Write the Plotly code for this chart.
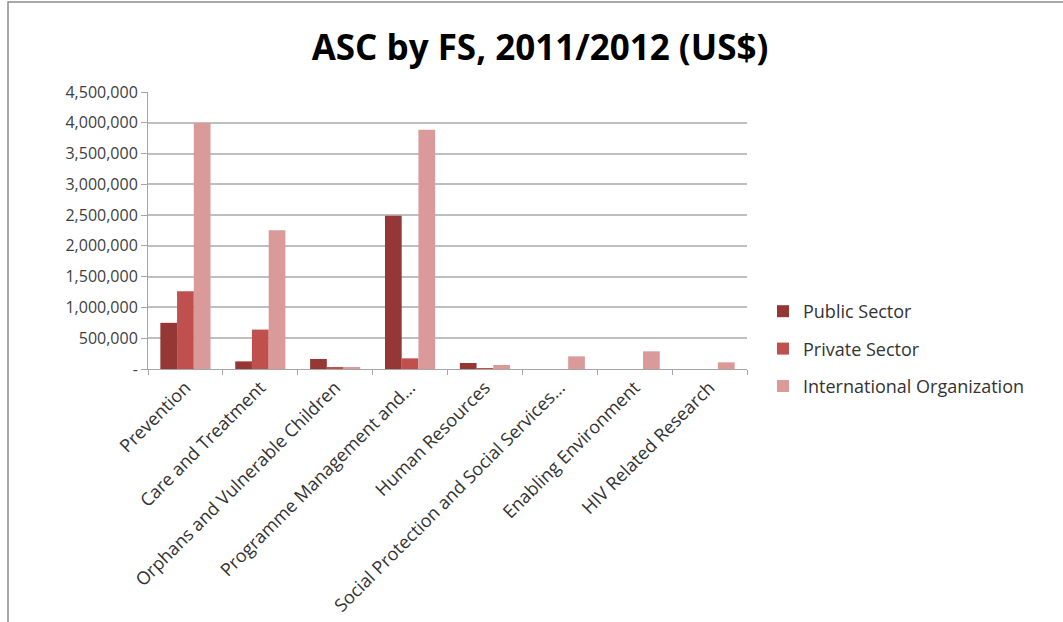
import plotly.graph_objects as go

categories = ["Prevention", "Care and Treatment", "Orphans and Vulnerable Children",
              "Programme Management and...", "Human Resources",
              "Social Protection and Social Services...", "Enabling Environment",
              "HIV Related Research"]
public_sector = [750000, 124000, 163000, 2488000, 98000, 0, 0, 0]
private_sector = [1265000, 640000, 26000, 173000, 5000, 0, 0, 0]
international_org = [3995000, 2255000, 20000, 3886000, 65000, 205000, 287000, 108000]

tick_vals = [0, 500000, 1000000, 1500000, 2000000, 2500000, 3000000, 3500000, 4000000, 4500000]
tick_text = ["-", "500,000", "1,000,000", "1,500,000", "2,000,000", "2,500,000",
             "3,000,000", "3,500,000", "4,000,000", "4,500,000"]

W, H = 1063, 622
L, R, T, B = 148, 747, 92, 369

fig = go.Figure()
for name, vals, col in [("Public Sector", public_sector, "#953735"),
                        ("Private Sector", private_sector, "#C0504D"),
                        ("International Organization", international_org, "#D99A99")]:
    fig.add_trace(go.Bar(x=categories, y=vals, name=name, legendgroup=name,
                         marker=dict(color=col, line=dict(width=0))))

pw = R - L
ph = B - T
fig.update_layout(
    width=W, height=H,
    margin=dict(l=L, r=W - R, t=T, b=H - B, autoexpand=False),
    paper_bgcolor="white", plot_bgcolor="white",
    barmode="group", bargap=0.33, bargroupgap=0,
    title=dict(text="<b>ASC by FS, 2011/2012 (US$)</b>", x=540 / W, xanchor="center",
               y=1 - 48 / H, yanchor="middle",
               font=dict(family="Open Sans", size=35, color="black")),
    font=dict(family="Open Sans", color="#333333"),
    legend=dict(x=(763 - L) / pw, y=(T + ph - 311 + 18) / ph, xanchor="left", yanchor="top",
                font=dict(size=18, color="#333333"), tracegroupgap=11,
                traceorder="grouped", itemwidth=30, bgcolor="rgba(0,0,0,0)"),
    xaxis=dict(tickangle=-45, tickfont=dict(size=18, color="#333333"),
               showline=True, linecolor="#A6A6A6", linewidth=1,
               ticks="outside", ticklen=5, tickcolor="#A6A6A6", tickson="boundaries",
               showgrid=False),
    yaxis=dict(range=[0, 4500000], tickvals=tick_vals, ticktext=tick_text,
               tickfont=dict(size=16, color="#404040"),
               showline=True, linecolor="#A6A6A6", linewidth=1,
               ticks="outside", ticklen=6, tickcolor="#A6A6A6",
               showgrid=True, gridcolor="#BFBFBF", gridwidth=1.5, zeroline=False),
    shapes=[dict(type="rect", xref="paper", yref="paper",
                 x0=(8 - L) / pw, x1=(W + 20 - L) / pw,
                 y0=(B - (H + 20)) / ph, y1=(B - 2) / ph,
                 line=dict(color="#8C8C8C", width=1.5), fillcolor="rgba(0,0,0,0)", layer="below")],
)
fig.write_html("out.html")
